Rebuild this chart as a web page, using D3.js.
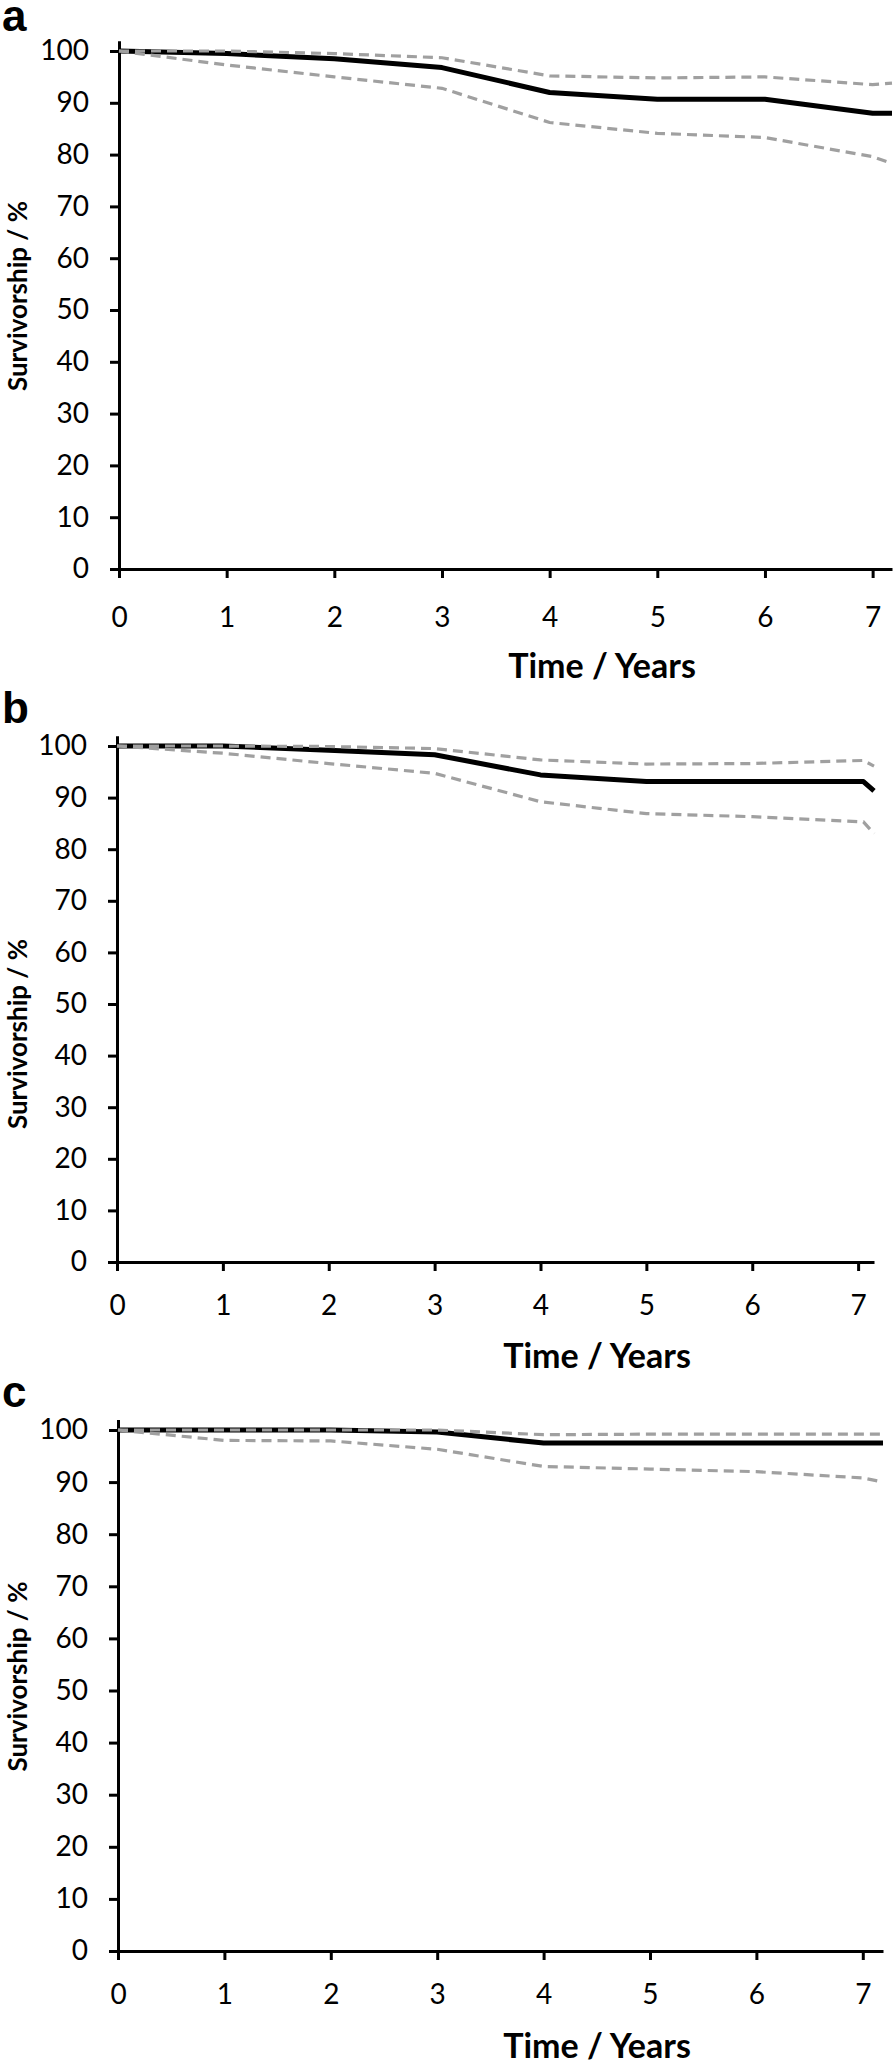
<!DOCTYPE html>
<html>
<head>
<meta charset="utf-8">
<script src="https://cdn.jsdelivr.net/npm/d3@7"></script>
<style>
  body { margin: 0; background: #fff; }
  svg { display: block; font-family: Lato, "Open Sans", sans-serif; }
</style>
</head>
<body>
<div class="canvas"></div>
<script>
// data (survivorship %, with upper / lower bounds)
const yTicks = [0, 10, 20, 30, 40, 50, 60, 70, 80, 90, 100];
const xTicks = [0, 1, 2, 3, 4, 5, 6, 7];

const yearsA = [0, 1, 2, 3, 4, 5, 6, 7, 7.18];
const survA = [100, 99.5, 98.5, 96.8, 92.0, 90.7, 90.7, 88.0, 88.0];
const upperA = [100, 100, 99.5, 98.7, 95.2, 94.8, 95.0, 93.5, 93.8];
const lowerA = [100, 97.3, 95.0, 92.8, 86.2, 84.1, 83.3, 79.6, 78.3];

const yearsB = [0, 1, 2, 3, 4, 5, 6, 7.05, 7.15];
const survB = [100, 100, 99.2, 98.3, 94.4, 93.1, 93.1, 93.1, 91.3];
const upperB = [100, 100, 99.9, 99.5, 97.3, 96.5, 96.6, 97.2, 96.1];
const lowerB = [100, 98.6, 96.6, 94.7, 89.2, 86.9, 86.3, 85.3, 83.0];

const yearsC = [0, 1, 2, 3, 4, 5, 6, 7, 7.19];
const survC = [100, 100, 100, 99.6, 97.5, 97.5, 97.5, 97.5, 97.5];
const upperC = [100, 100, 100, 100, 99.1, 99.2, 99.2, 99.2, 99.2];
const lowerC = [100, 98.0, 97.9, 96.3, 93.0, 92.5, 92.0, 90.8, 90.0];

const panels = [
  { label: "a", years: yearsA, surv: survA, upper: upperA, lower: lowerA,
    top: 51, bottom: 569, left: 119, right: 892, xMax: 7.18, labelY: 31, pad: 29,
    titleX: 602, titleY: 678, yTitleShift: -14 },
  { label: "b", years: yearsB, surv: survB, upper: upperB, lower: lowerB,
    top: 746, bottom: 1262, left: 117, right: 874, xMax: 7.15, labelY: 723, pad: 24,
    titleX: 597, titleY: 1368, yTitleShift: 30 },
  { label: "c", years: yearsC, surv: survC, upper: upperC, lower: lowerC,
    top: 1430, bottom: 1951, left: 118, right: 883, xMax: 7.19, labelY: 1407, pad: 24,
    titleX: 597, titleY: 2058, yTitleShift: -14 }
];

const dims = { width: 894, height: 2066 };

const svg = d3
  .select(".canvas")
  .append("svg")
  .attr("width", dims.width)
  .attr("height", dims.height);

panels.forEach((p) => {
  const x = d3.scaleLinear().domain([0, p.xMax]).range([p.left, p.right]);
  // axis line runs a little past 100
  const y = d3
    .scaleLinear()
    .domain([0, 102])
    .range([p.bottom, p.bottom - (p.bottom - p.top) * 1.02]);

  const g = svg.append("g");

  // y axis
  const yAxis = d3.axisLeft(y).tickValues(yTicks).tickSize(9).tickSizeOuter(0).tickPadding(21);
  g.append("g")
    .attr("transform", `translate(${p.left},0)`)
    .call(yAxis)
    .call((a) => a.selectAll("text").attr("font-size", 28).attr("font-family", "Lato").attr("fill", "#000"));

  // x axis
  const xAxis = d3.axisBottom(x).tickValues(xTicks).tickSize(9).tickSizeOuter(0).tickPadding(p.pad);
  g.append("g")
    .attr("transform", `translate(0,${p.bottom})`)
    .call(xAxis)
    .call((a) => a.selectAll("text").attr("font-size", 28).attr("font-family", "Lato").attr("fill", "#000"));

  g.selectAll(".domain, .tick line").attr("stroke", "#000").attr("stroke-width", 3);

  const line = (vals) =>
    d3
      .line()
      .x((d, i) => x(p.years[i]))
      .y((d) => y(d))(vals);

  // main survivorship line
  g.append("path")
    .attr("d", line(p.surv))
    .attr("fill", "none")
    .attr("stroke", "#000")
    .attr("stroke-width", 5)
    .attr("stroke-linejoin", "round");

  // bounds, dashed grey, drawn on top
  [p.upper, p.lower].forEach((vals) => {
    g.append("path")
      .attr("d", line(vals))
      .attr("fill", "none")
      .attr("stroke", "#a0a0a0")
      .attr("stroke-width", 3.2)
      .attr("stroke-dasharray", "10,6");
  });

  // panel letter
  g.append("text")
    .attr("x", 2)
    .attr("y", p.labelY)
    .attr("font-family", "Liberation Sans, Arial, sans-serif")
    .attr("font-weight", "bold")
    .attr("font-size", 44)
    .text(p.label);

  // axis titles
  g.append("text")
    .attr("transform", `translate(27,${(p.top + p.bottom) / 2 + p.yTitleShift}) rotate(-90)`)
    .attr("text-anchor", "middle")
    .attr("font-weight", "bold")
    .attr("font-size", 26)
    .text("Survivorship / %");

  g.append("text")
    .attr("x", p.titleX)
    .attr("y", p.titleY)
    .attr("text-anchor", "middle")
    .attr("font-weight", "bold")
    .attr("font-size", 34)
    .text("Time / Years");
});
</script>
</body>
</html>
